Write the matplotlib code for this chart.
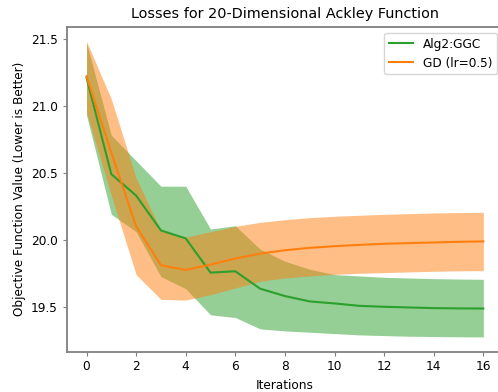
import numpy as np
import matplotlib
matplotlib.use("Agg")
import matplotlib.pyplot as plt

# values
iterations = np.arange(17)

ggc_mean = [21.21, 20.49, 20.33, 20.07, 20.01, 19.755, 19.765, 19.635, 19.58,
            19.54, 19.525, 19.507, 19.50, 19.495, 19.49, 19.488, 19.487]
ggc_upper = [21.47, 20.78, 20.59, 20.40, 20.40, 20.08, 20.105, 19.93, 19.84,
             19.78, 19.74, 19.73, 19.72, 19.715, 19.71, 19.707, 19.705]
ggc_lower = [20.93, 20.19, 20.06, 19.725, 19.635, 19.44, 19.42, 19.335, 19.32,
             19.31, 19.30, 19.29, 19.285, 19.28, 19.278, 19.276, 19.275]

gd_mean = [21.22, 20.65, 20.10, 19.81, 19.775, 19.815, 19.86, 19.897, 19.922,
           19.94, 19.952, 19.962, 19.97, 19.975, 19.98, 19.985, 19.988]
gd_upper = [21.48, 21.05, 20.46, 20.07, 20.02, 20.06, 20.10, 20.13, 20.15,
            20.165, 20.175, 20.183, 20.19, 20.195, 20.20, 20.203, 20.205]
gd_lower = [20.95, 20.33, 19.74, 19.555, 19.55, 19.59, 19.64, 19.69, 19.715,
            19.73, 19.742, 19.75, 19.755, 19.76, 19.765, 19.768, 19.77]

plt.rcParams["font.size"] = 8.7
plt.rcParams["axes.edgecolor"] = "#808080"
plt.rcParams["axes.linewidth"] = 1.3
plt.rcParams["xtick.color"] = "#808080"
plt.rcParams["ytick.color"] = "#808080"
plt.rcParams["xtick.labelcolor"] = "black"
plt.rcParams["ytick.labelcolor"] = "black"
plt.rcParams["xtick.major.size"] = 2.8
plt.rcParams["ytick.major.size"] = 2.8

fig = plt.figure(figsize=(4.98, 3.92), dpi=100)
# axes run slightly past the right edge, as in the reference
ax = fig.add_axes([0.1339, 0.1028, 0.8765, 0.8291])

ax.fill_between(iterations, ggc_lower, ggc_upper, color="tab:green", alpha=0.5, linewidth=0)
ax.fill_between(iterations, gd_lower, gd_upper, color="tab:orange", alpha=0.5, linewidth=0)
ax.plot(iterations, ggc_mean, color="tab:green", lw=1.5, label="Alg2:GGC")
ax.plot(iterations, gd_mean, color="tab:orange", lw=1.5, label="GD (lr=0.5)")

ax.set_title("Losses for 20-Dimensional Ackley Function", fontsize=10.4)
ax.set_xlabel("Iterations")
ax.set_ylabel("Objective Function Value (Lower is Better)")
ax.set_xticks(range(0, 17, 2))
ax.legend(loc="upper right")

fig.savefig("out.png", dpi=100)
